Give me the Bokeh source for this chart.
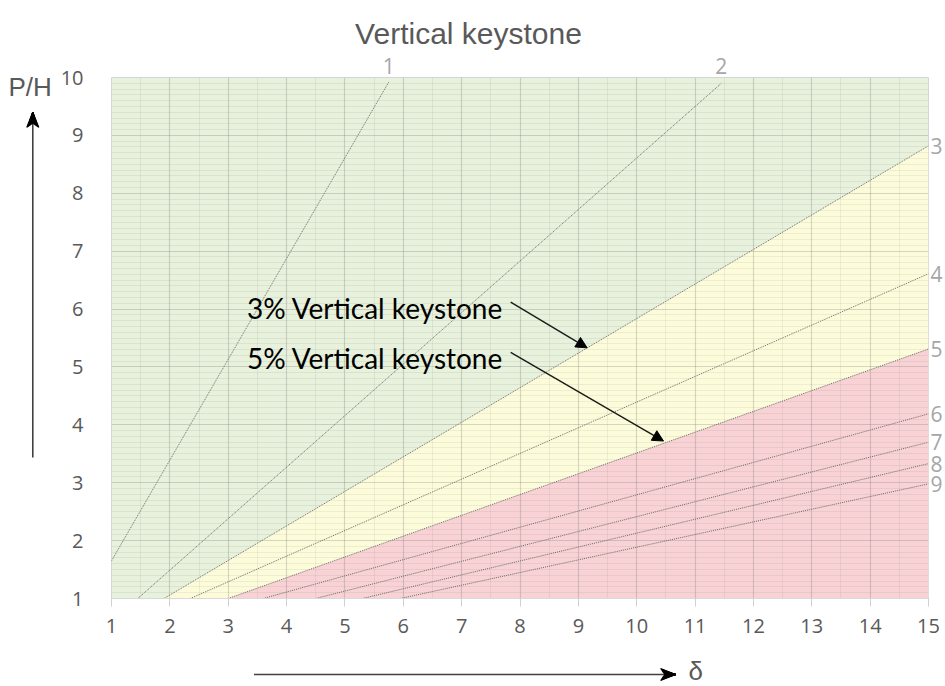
from bokeh.plotting import figure
from bokeh.models import (Range1d, SingleIntervalTicker, FixedTicker, LinearAxis, Label, Arrow,
                          NormalHead)
from bokeh.embed import file_html
from bokeh.resources import INLINE

# ---- data ----
line_ids = ["1", "2", "3", "4", "5", "6", "7", "8", "9"]
x_start = [1.0, 1.45, 1.9, 2.35, 3.0, 3.6, 4.5, 5.3, 5.95]
y_start = [1.65, 1.0, 1.0, 1.0, 1.0, 1.0, 1.0, 1.0, 1.0]
x_end = [5.75, 11.45, 15.0, 15.0, 15.0, 15.0, 15.0, 15.0, 15.0]
y_end = [9.92, 9.90, 8.82, 6.61, 5.31, 4.19, 3.70, 3.33, 2.98]

x_ticks = list(range(1, 16))
y_ticks = list(range(1, 11))

title_text = "Vertical keystone"
y_label = "P/H"
x_label = "δ"
note_3 = "3% Vertical keystone"
note_5 = "5% Vertical keystone"

GREEN = "#e7f1dc"
YELLOW = "#fdfcda"
PINK = "#f8d2d4"

W, H = 945, 686
FL, FR, FT, FB = 111, 931, 77, 598   # frame edges in canvas pixels

p = figure(width=W, height=H, output_backend="svg", toolbar_location=None,
           x_range=Range1d(x_ticks[0], x_ticks[-1]), y_range=Range1d(y_ticks[0], y_ticks[-1]),
           min_border_left=FL, min_border_right=W - FR, min_border_top=FT, min_border_bottom=H - FB)
p.background_fill_color = GREEN
p.border_fill_color = "white"
p.outline_line_color = "#d4d4dc"


def dx(px):
    """canvas pixel -> data x (for decorations outside the frame)"""
    return x_ticks[0] + (px - FL) / (FR - FL) * (x_ticks[-1] - x_ticks[0])


def dy(py):
    return y_ticks[0] + (FB - py) / (FB - FT) * (y_ticks[-1] - y_ticks[0])


# zone fills: below 3% line yellow, below 5% line pink
i3, i5 = 2, 4
p.varea(x=[x_start[i3], x_end[i3]], y1=[y_ticks[0], y_ticks[0]], y2=[y_start[i3], y_end[i3]],
        fill_color=YELLOW, level="image")
p.varea(x=[x_start[i5], x_end[i5]], y1=[y_ticks[0], y_ticks[0]], y2=[y_start[i5], y_end[i5]],
        fill_color=PINK, level="image")

# ticks & grid
xt = SingleIntervalTicker(interval=1, num_minor_ticks=2)
yt = SingleIntervalTicker(interval=1, num_minor_ticks=10)
p.xaxis.ticker = xt
p.yaxis.ticker = yt
p.xgrid.ticker = xt
p.ygrid.ticker = yt
for g in (p.xgrid, p.ygrid):
    g.grid_line_color = "#7a7a7a"
    g.grid_line_alpha = 0.2
    g.grid_line_width = 1.2
    g.minor_grid_line_color = "#7a7a7a"
    g.minor_grid_line_alpha = 0.11
    g.minor_grid_line_width = 1

p.xaxis.axis_line_color = "#d9d9d9"
p.xaxis.major_tick_line_color = "#d0d0d0"
p.xaxis.major_tick_out = 8
p.xaxis.major_tick_in = 0
p.xaxis.minor_tick_line_color = None
p.xaxis.major_label_standoff = 12
p.yaxis.axis_line_color = None
p.yaxis.major_tick_line_color = None
p.yaxis.minor_tick_line_color = None
p.yaxis.major_label_standoff = 22
for ax in (p.xaxis, p.yaxis):
    ax.major_label_text_font = "Open Sans"
    ax.major_label_text_font_size = "20px"
    ax.major_label_text_color = "#595959"

# keystone lines
p.segment(x0=x_start, y0=y_start, x1=x_end, y1=y_end,
          line_color="#6a6a6a", line_width=1, line_dash="1 1")

# line-number labels via extra axes at the line end points
top_axis = LinearAxis(ticker=FixedTicker(ticks=x_end[:2]),
                      major_label_overrides={v: t for v, t in zip(x_end[:2], line_ids[:2])})
right_axis = LinearAxis(ticker=FixedTicker(ticks=y_end[2:]),
                        major_label_overrides={v: t for v, t in zip(y_end[2:], line_ids[2:])})
for ax, std in ((top_axis, 4), (right_axis, 2)):
    ax.axis_line_color = None
    ax.major_tick_line_color = None
    ax.minor_tick_line_color = None
    ax.major_tick_out = 0
    ax.major_tick_in = 0
    ax.major_label_standoff = std
    ax.major_label_text_font = "Open Sans"
    ax.major_label_text_font_size = "21px"
    ax.major_label_text_color = "#a6a6a6"
p.add_layout(top_axis, "above")
p.add_layout(right_axis, "right")

# title and axis captions (side panels, canvas positions)
p.add_layout(Label(x=468, y=33, x_units="canvas", y_units="canvas", text=title_text,
                   text_align="center", text_baseline="alphabetic", text_font="Liberation Sans",
                   text_font_size="30px", text_color="#595959"), "above")
p.add_layout(Label(x=8, y=86, x_units="canvas", y_units="canvas", text=y_label,
                   text_align="left", text_baseline="middle", text_font="Liberation Sans",
                   text_font_size="26px", text_color="#595959"), "left")
p.add_layout(Label(x=688, y=685, x_units="canvas", y_units="canvas", text=x_label,
                   text_align="left", text_baseline="bottom", text_font="Liberation Sans",
                   text_font_size="26px", text_color="#595959"), "below")

# axis direction arrows, drawn as overlay-level glyphs outside the frame
p.segment(x0=[dx(32), dx(254)], y0=[dy(457), dy(674)], x1=[dx(32), dx(668)], y1=[dy(122), dy(674)],
          line_color="#404040", line_width=1.6, level="overlay")

# filled stealth-shaped heads: fan of strokes from the tip to the notched base
fan = [i / 10 for i in range(-10, 11)]
up_x0 = [dx(32 + 6 * f) for f in fan]
up_y0 = [dy(127 - 4 * (1 - abs(f))) for f in fan]
rt_x0 = [dx(662 + 4 * (1 - abs(f))) for f in fan]
rt_y0 = [dy(674 + 6 * f) for f in fan]
p.segment(x0=up_x0 + rt_x0, y0=up_y0 + rt_y0,
          x1=[dx(32)] * len(fan) + [dx(677)] * len(fan),
          y1=[dy(112)] * len(fan) + [dy(674)] * len(fan),
          line_color="black", line_width=1.3, level="overlay")

# notes with arrows
p.add_layout(Label(x=3.32, y=6.02, text=note_3, text_align="left", text_baseline="alphabetic",
                   text_font="Lato", text_font_size="28px", text_color="black"))
p.add_layout(Label(x=3.32, y=5.16, text=note_5, text_align="left", text_baseline="alphabetic",
                   text_font="Lato", text_font_size="28px", text_color="black"))
p.add_layout(Arrow(end=NormalHead(size=11, fill_color="black", line_color="black"),
                   x_start=7.84, y_start=6.12, x_end=9.15, y_end=5.33,
                   line_color="#1a1a1a", line_width=1.4))
p.add_layout(Arrow(end=NormalHead(size=11, fill_color="black", line_color="black"),
                   x_start=7.84, y_start=5.25, x_end=10.46, y_end=3.72,
                   line_color="#1a1a1a", line_width=1.4))

open("out.html", "w").write(file_html(p, INLINE))
